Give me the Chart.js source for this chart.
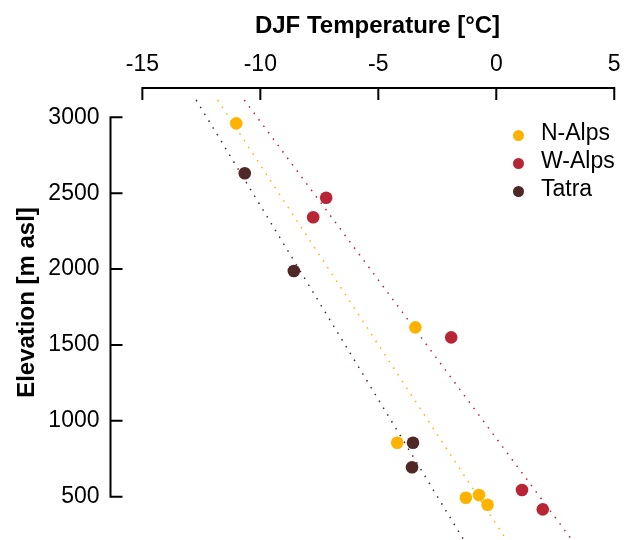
<!DOCTYPE html>
<html>
<head>
<meta charset="utf-8">
<script src="https://cdn.jsdelivr.net/npm/chart.js@4/dist/chart.umd.min.js"></script>
<style>
  body { margin: 0; background: #fff; }
  #wrap { position: relative; width: 631px; height: 540px; }
  #chart { display: block; }
  #legend { position: absolute; left: 508px; top: 117.5px; font: 23px "Liberation Sans", Arial, sans-serif; color: #000; }
  #legend div { height: 28px; line-height: 28px; white-space: nowrap; }
  #legend span { display: inline-block; width: 11px; height: 11px; border-radius: 50%; margin: 0 17.5px 0 4.5px; vertical-align: -1px; }
</style>
</head>
<body>
<div id="wrap">
  <canvas id="chart" width="631" height="540"></canvas>
  <div id="legend"></div>
</div>
<script>
var font = '"Liberation Sans", Arial, sans-serif';

// axis ticks
var xTicks = [-15, -10, -5, 0, 5];
var yTicks = [500, 1000, 1500, 2000, 2500, 3000];

// DJF temperature (degC) and elevation (m asl) of the stations
var nAlpsTemp = [-11.02, -3.43, -4.2, -1.29, -0.73, -0.37];
var nAlpsElev = [2960, 1616, 856, 493, 511, 447];
var wAlpsTemp = [-7.21, -7.76, -1.91, 1.09, 1.97];
var wAlpsElev = [2470, 2341, 1550, 544, 417];
var tatraTemp = [-10.66, -8.58, -3.53, -3.57];
var tatraElev = [2631, 1987, 856, 694];

// fitted lapse-rate lines: temperature at the top and bottom elevation
var fitElev = [3114, 221];
var nAlpsFit = [-11.81, 0.41];
var wAlpsFit = [-10.68, 3.18];
var tatraFit = [-12.72, -1.4];

var colors = { nAlps: "#FFB300", wAlps: "#B82535", tatra: "#4F2727" };

function pairs(xs, ys) {
  var out = [];
  for (var i = 0; i < xs.length; i++) out.push({ x: xs[i], y: ys[i] });
  return out;
}

function pointSet(label, temp, elev, color) {
  return {
    type: "scatter",
    label: label,
    data: pairs(temp, elev),
    backgroundColor: color,
    borderColor: color,
    pointRadius: 6.3,
    pointHoverRadius: 6.3,
    borderWidth: 0,
    order: 0
  };
}

function fitSet(label, temp, color) {
  return {
    type: "line",
    label: label + " fit",
    data: pairs(temp, fitElev),
    borderColor: color,
    borderWidth: 1.5,
    borderDash: [1.5, 6.5],
    pointRadius: 0,
    fill: false,
    order: 1,
    isFit: true
  };
}

// R style axes: line only from first to last tick, ticks pointing inward
var rAxes = {
  id: "rAxes",
  afterDraw: function(chart) {
    var ctx = chart.ctx;
    var area = chart.chartArea;
    var x = chart.scales.x;
    var y = chart.scales.y;
    ctx.save();
    ctx.strokeStyle = "#000";
    ctx.lineWidth = 2;
    ctx.beginPath();
    ctx.moveTo(x.getPixelForValue(xTicks[0]) - 1, area.top);
    ctx.lineTo(x.getPixelForValue(xTicks[xTicks.length - 1]) + 1, area.top);
    xTicks.forEach(function(v) {
      var px = x.getPixelForValue(v);
      ctx.moveTo(px, area.top - 1);
      ctx.lineTo(px, area.top + 12);
    });
    ctx.moveTo(area.left, y.getPixelForValue(yTicks[0]) + 1);
    ctx.lineTo(area.left, y.getPixelForValue(yTicks[yTicks.length - 1]) - 1);
    yTicks.forEach(function(v) {
      var py = y.getPixelForValue(v);
      ctx.moveTo(area.left - 1, py);
      ctx.lineTo(area.left + 12, py);
    });
    ctx.stroke();

    // axis titles
    ctx.fillStyle = "#000";
    ctx.font = "bold 24px " + font;
    ctx.textAlign = "center";
    ctx.textBaseline = "alphabetic";
    ctx.fillText("DJF Temperature [°C]", 377.5, 33);
    ctx.translate(34, 302.5);
    ctx.rotate(-Math.PI / 2);
    ctx.fillText("Elevation [m asl]", 0, 0);
    ctx.restore();
  }
};

var ctx = document.getElementById("chart");
var chart = new Chart(ctx, {
  type: "scatter",
  data: {
    datasets: [
      pointSet("N-Alps", nAlpsTemp, nAlpsElev, colors.nAlps),
      pointSet("W-Alps", wAlpsTemp, wAlpsElev, colors.wAlps),
      pointSet("Tatra", tatraTemp, tatraElev, colors.tatra),
      fitSet("N-Alps", nAlpsFit, colors.nAlps),
      fitSet("W-Alps", wAlpsFit, colors.wAlps),
      fitSet("Tatra", tatraFit, colors.tatra)
    ]
  },
  options: {
    responsive: false,
    animation: false,
    layout: { autoPadding: false, padding: { left: 0, right: 7.3, top: 0, bottom: 0 } },
    plugins: {
      legend: { display: false },
      tooltip: { enabled: false }
    },
    scales: {
      x: {
        type: "linear",
        position: "top",
        min: -16.35,
        max: 5.4,
        grid: { display: false, drawTicks: false },
        border: { display: false },
        ticks: { font: { family: font, size: 23 }, color: "#000", padding: 10 },
        afterBuildTicks: function(scale) {
          scale.ticks = xTicks.map(function(v) { return { value: v }; });
        },
        afterFit: function(scale) {
          scale.height = 88;
          scale.paddingLeft = 0;
          scale.paddingRight = 0;
        }
      },
      y: {
        type: "linear",
        min: 215,
        max: 3193,
        grid: { display: false, drawTicks: false },
        border: { display: false },
        ticks: {
          font: { family: font, size: 23 },
          color: "#000",
          padding: 11,
          callback: function(v) { return String(v); }
        },
        afterBuildTicks: function(scale) {
          scale.ticks = yTicks.map(function(v) { return { value: v }; });
        },
        afterFit: function(scale) {
          scale.width = 110.5;
          scale.paddingTop = 0;
          scale.paddingBottom = 0;
        }
      }
    }
  },
  plugins: [rAxes]
});

// legend in the top right of the plot
var legend = document.getElementById("legend");
chart.data.datasets.forEach(function(ds) {
  if (ds.isFit) return;
  var row = document.createElement("div");
  var dot = document.createElement("span");
  dot.style.background = ds.backgroundColor;
  row.appendChild(dot);
  row.appendChild(document.createTextNode(ds.label));
  legend.appendChild(row);
});
</script>
</body>
</html>
